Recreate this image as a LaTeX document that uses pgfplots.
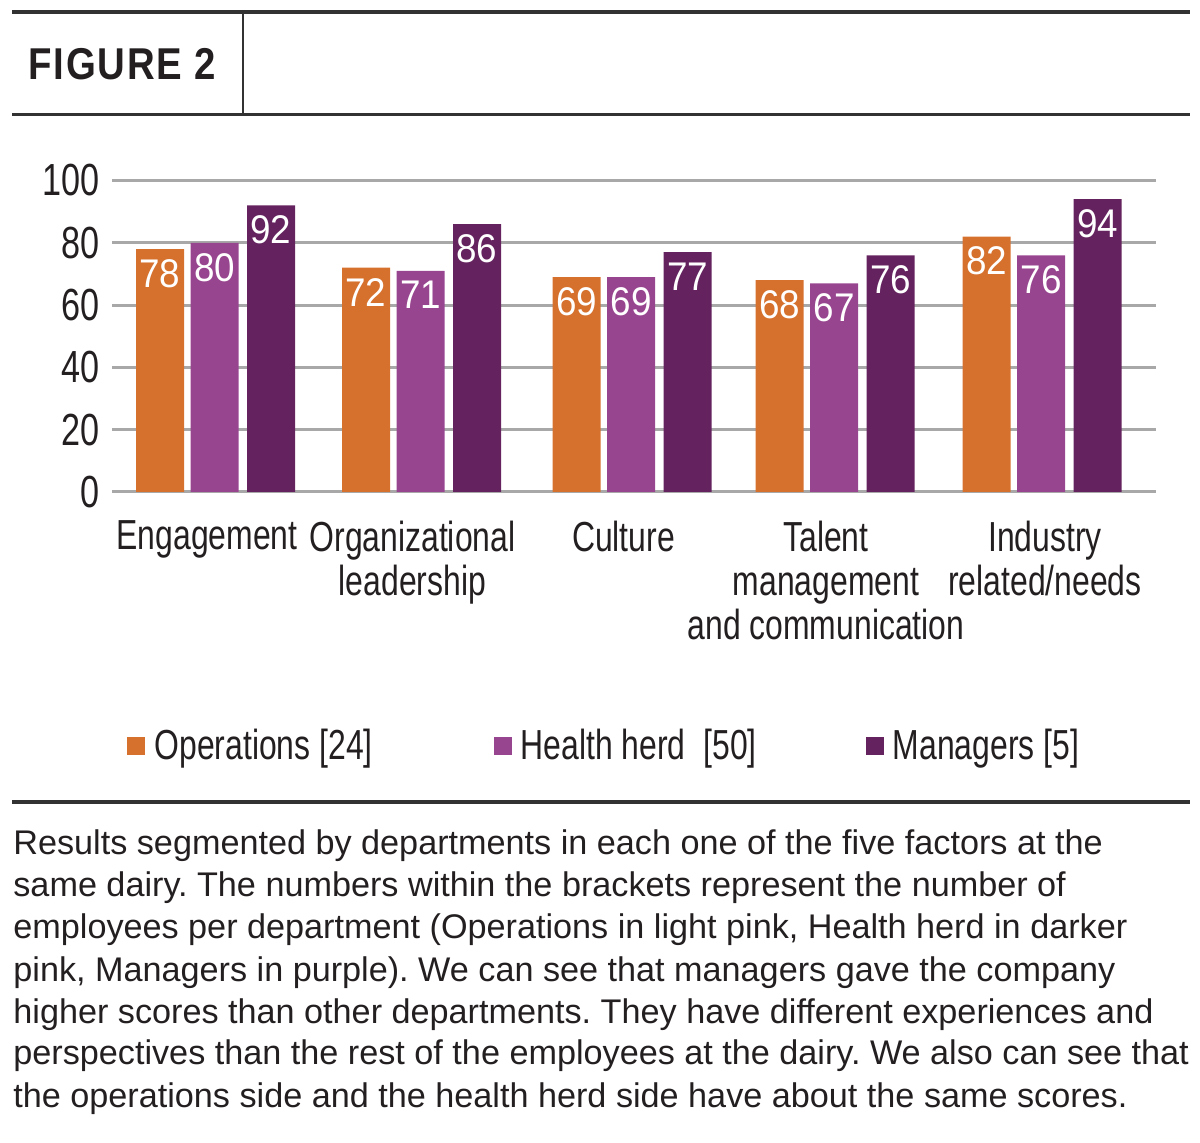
\documentclass[border=0pt]{standalone}
\usepackage{fontspec}
\setmainfont{Liberation Sans}
\newfontfamily\condfont{Liberation Sans}[FakeStretch=0.76]
\newfontfamily\valfont{Liberation Sans}[FakeStretch=0.92]
\newfontfamily\headfont{Liberation Sans}[FakeStretch=0.86,LetterSpace=4]
\usepackage{pgfplots}
\usepackage{pgfplotstable}
\pgfplotsset{compat=1.18}
\frenchspacing

\definecolor{opsorange}{RGB}{214,112,45}
\definecolor{hhpink}{RGB}{152,69,143}
\definecolor{mgrpurple}{RGB}{100,35,95}
\definecolor{gridgray}{RGB}{168,168,168}
\definecolor{textdark}{RGB}{35,31,32}
\definecolor{rulegray}{RGB}{50,50,50}

% group centre (x, in layout units) and score of each department
\pgfplotstableread{
x     ops hh  mgr
215.5 78  80  92
421.5 72  71  86
632   69  69  77
835   68  67  76
1042  82  76  94
}\scores

\begin{document}
\begin{tikzpicture}
% page frame, header and caption (1 unit = 0.5pt, y downwards)
\begin{scope}[x=0.5pt,y=-0.5pt]
  \useasboundingbox (0,0) rectangle (1200,1143);
  \draw[rulegray, line width=1.75pt] (12,12) -- (1190,12);
  \draw[rulegray, line width=1.5pt] (12,115) -- (1190,115);
  \draw[rulegray, line width=1pt] (243,12) -- (243,115);
  \draw[rulegray, line width=1.75pt] (12,802) -- (1190,802);
  \node[anchor=base west, inner sep=0pt, text=textdark,
        font=\headfont\bfseries\fontsize{22.3}{24}\selectfont] at (28,80) {FIGURE 2};
  \begin{scope}[every node/.style={anchor=base west, inner sep=0pt, text=textdark,
        font=\fontsize{17.1}{21}\selectfont}]
    \node at (13,855)  {Results segmented by departments in each one of the five factors at the};
    \node at (13,897)  {same dairy. The numbers within the brackets represent the number of};
    \node at (13,939)  {employees per department (Operations in light pink, Health herd in darker};
    \node at (13,981)  {pink, Managers in purple). We can see that managers gave the company};
    \node at (13,1023) {higher scores than other departments. They have different experiences and};
    \node at (13,1065) {perspectives than the rest of the employees at the dairy. We also can see that};
    \node at (13,1107) {the operations side and the health herd side have about the same scores.};
  \end{scope}
\end{scope}

\begin{axis}[
  at={(56pt,-246pt)}, anchor=south west,
  x=0.5pt, y=1.5575pt,
  xmin=112, xmax=1156, ymin=0, ymax=100,
  /pgf/number format/assume math mode=true,
  axis line style={draw=none},
  tick style={draw=none},
  ytick={0,20,...,100},
  ymajorgrids,
  major grid style={gridgray, line width=1.5pt},
  yticklabel style={font=\condfont\fontsize{22.5}{24}\selectfont, text=textdark,
                    anchor=east, inner sep=0pt, xshift=-6pt},
  xtick={207,412.5,623.5,826,1045},
  xticklabels={Engagement, {Organizational\\leadership}, Culture,
               {Talent\\management\\and communication}, {Industry\\related/needs}},
  xticklabel style={font=\condfont\fontsize{21}{22}\selectfont, text=textdark,
                    align=center, anchor=north, inner sep=0pt, yshift=-10pt},
  ybar,
  bar width=48,
  nodes near coords,
  nodes near coords style={font=\valfont\fontsize{20}{20}\selectfont, text=white,
                           anchor=north, inner sep=0pt, yshift=-5pt},
  legend columns=3,
  legend image code/.code={\fill[#1] (0pt,-4.5pt) rectangle (9pt,4.5pt);},
  legend style={at={(axis description cs:0.0144,-0.815)}, anchor=west,
                draw=none, fill=none, inner sep=0pt,
                font=\condfont\fontsize{21}{22}\selectfont, text=textdark,
                /tikz/every odd column/.append style={column sep=2.5pt},
                /tikz/every even column/.append style={column sep=55.5pt}},
]
\addplot[fill=opsorange, draw=none, bar shift=-55.5] table[x=x, y=ops] {\scores};
\addplot[fill=hhpink, draw=none, bar shift=-1] table[x=x, y=hh] {\scores};
\addplot[fill=mgrpurple, draw=none, bar shift=55.5] table[x=x, y=mgr] {\scores};
\legend{Operations [24]\kern3pt\null, Health herd\ \ [50]\kern-3pt\null, Managers [5]}
\end{axis}
\end{tikzpicture}
\end{document}
